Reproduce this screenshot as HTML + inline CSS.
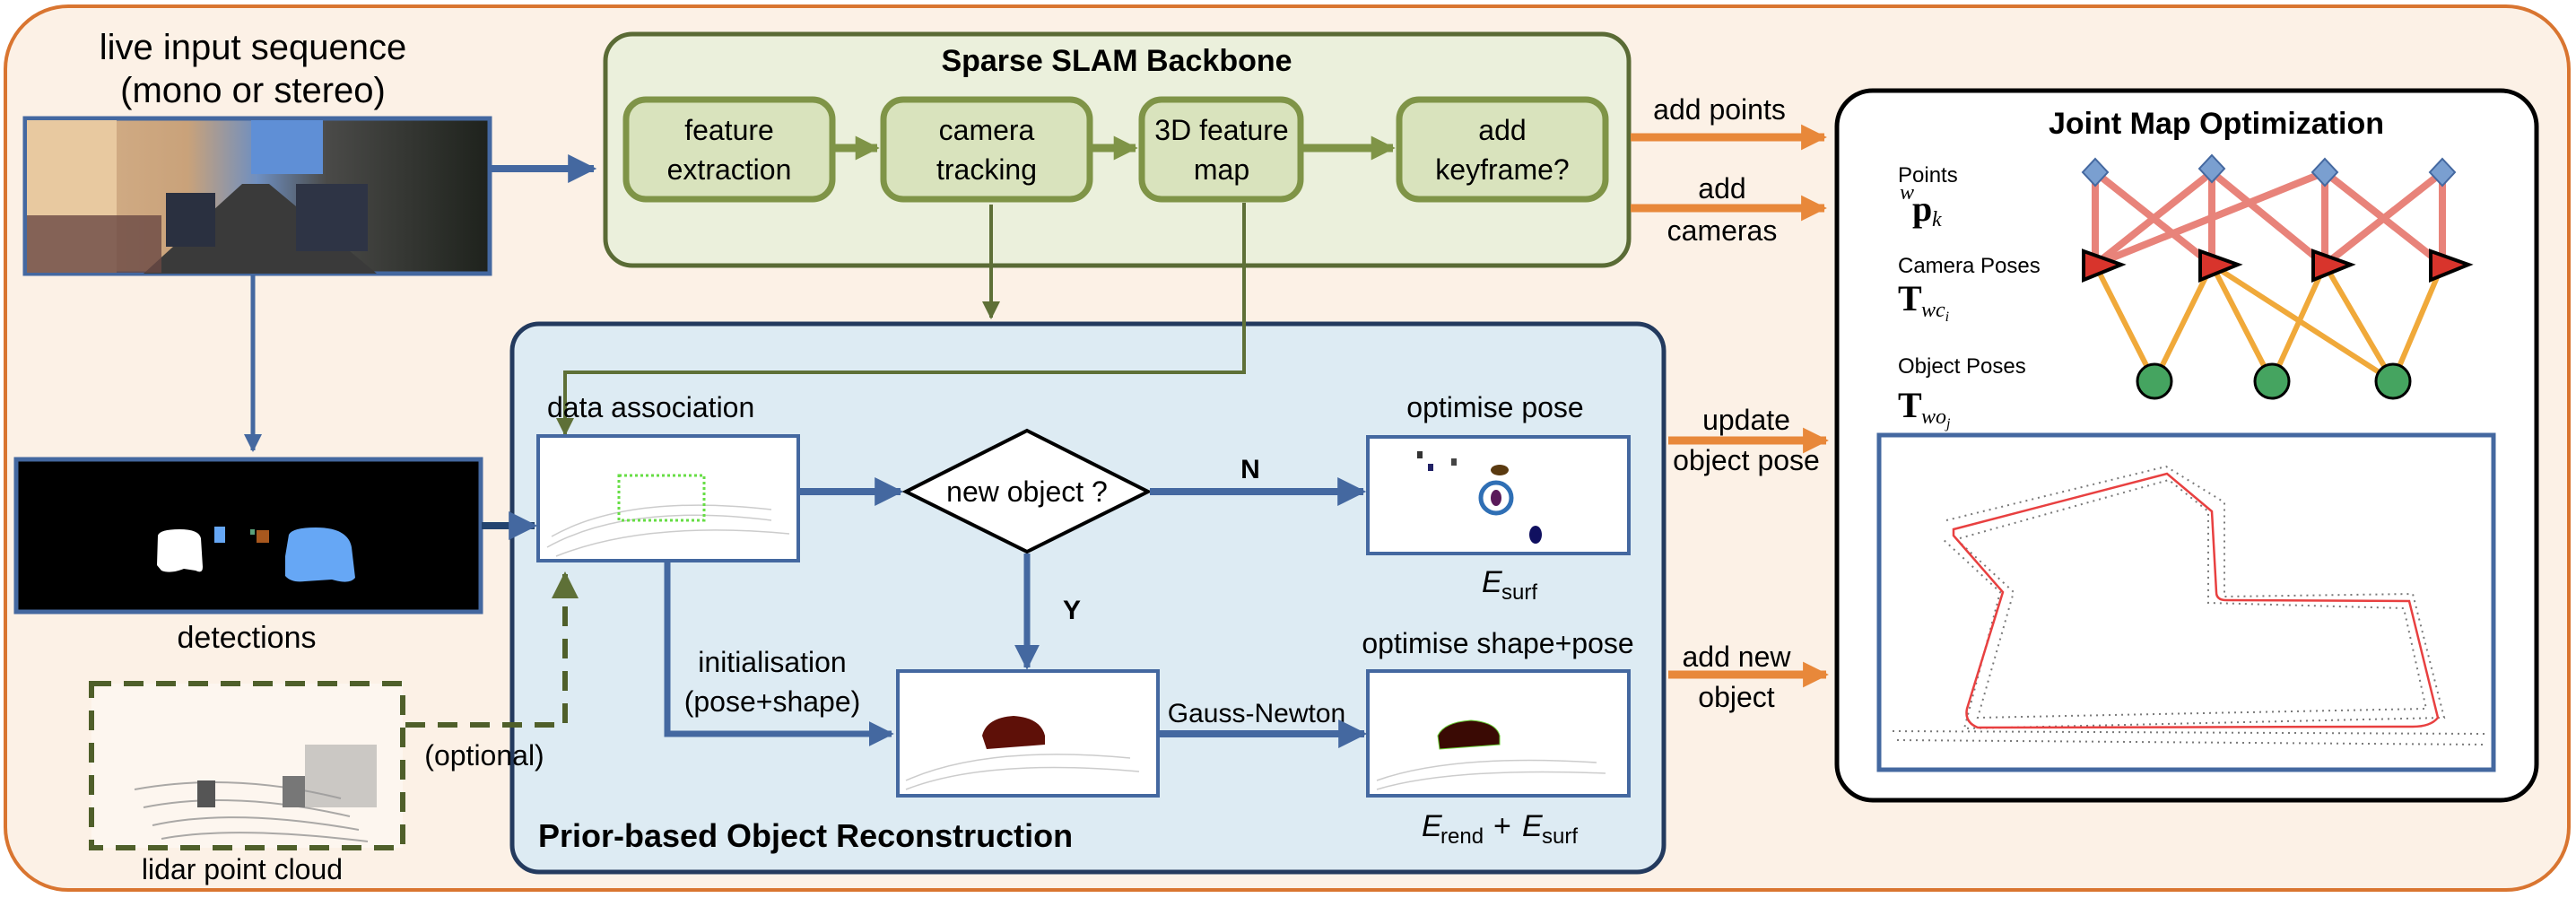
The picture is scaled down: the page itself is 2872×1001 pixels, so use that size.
<!DOCTYPE html>
<html><head><meta charset="utf-8"><style>
html,body{margin:0;padding:0;background:#fff;}
svg{display:block;}
text{font-family:"Liberation Sans",Arial,sans-serif;fill:#000;}
.m{font-family:"Liberation Serif",serif;}
</style></head><body>
<svg width="2872" height="1001" viewBox="0 0 2872 1001" xmlns="http://www.w3.org/2000/svg">
<defs>
<marker id="ab" viewBox="0 0 10 10" refX="9" refY="5" markerWidth="4" markerHeight="4.5" orient="auto" markerUnits="strokeWidth"><path d="M0,0 L10,5 L0,10 z" fill="#4468a0"/></marker>
<marker id="ag" viewBox="0 0 10 10" refX="9" refY="5" markerWidth="5" markerHeight="5" orient="auto" markerUnits="strokeWidth"><path d="M0,0 L10,5 L0,10 z" fill="#5e7037"/></marker>
<marker id="ao" viewBox="0 0 10 10" refX="9" refY="5" markerWidth="3.2" markerHeight="4" orient="auto" markerUnits="strokeWidth"><path d="M0,0 L10,5 L0,10 z" fill="#e8883a"/></marker>
<marker id="al" viewBox="0 0 10 10" refX="9" refY="5" markerWidth="3" markerHeight="4" orient="auto" markerUnits="strokeWidth"><path d="M0,0 L10,5 L0,10 z" fill="#7f9447"/></marker>
<linearGradient id="street" x1="0" y1="0" x2="1" y2="0">
<stop offset="0" stop-color="#d8b48e"/><stop offset="0.35" stop-color="#c9a27a"/><stop offset="0.5" stop-color="#6f8fc0"/><stop offset="0.65" stop-color="#4a4a48"/><stop offset="1" stop-color="#1e221c"/></linearGradient>
</defs>

<!-- outer -->
<rect x="6" y="7" width="2858" height="985" rx="70" fill="#fcf1e6" stroke="#d97530" stroke-width="4"/>
<!-- Blue box background first -->
<rect x="571" y="361" width="1284" height="611" rx="30" fill="#ddebf3" stroke="#233a5e" stroke-width="5"/>

<!-- left column -->
<text x="282" y="66" font-size="40" text-anchor="middle">live input sequence</text>
<text x="282" y="114" font-size="40" text-anchor="middle">(mono or stereo)</text>
<rect x="28" y="132" width="518" height="173" fill="url(#street)" stroke="#4468a0" stroke-width="5"/>
<polygon points="160,305 270,205 300,205 420,305" fill="#3a3a3a"/>
<rect x="30" y="134" width="100" height="170" fill="#e8c9a0"/>
<rect x="30" y="240" width="150" height="64" fill="#6a4844" opacity="0.8"/>
<rect x="185" y="215" width="55" height="60" fill="#2a3040"/>
<rect x="330" y="205" width="80" height="75" fill="#2e3445"/>
<rect x="280" y="134" width="80" height="60" fill="#5f8fd6"/>
<line x1="547" y1="188" x2="662" y2="188" stroke="#4468a0" stroke-width="8" marker-end="url(#ab)"/>
<line x1="282" y1="306" x2="282" y2="502" stroke="#4468a0" stroke-width="5" marker-end="url(#ab)"/>

<rect x="18" y="512" width="518" height="170" fill="#000" stroke="#4468a0" stroke-width="5"/>
<path d="M176,597 Q178,590 200,590 Q222,590 224,600 L226,632 Q226,640 218,636 L205,634 Q190,640 180,636 L175,630 z" fill="#fff"/>
<path d="M322,596 Q326,588 352,588 Q388,588 392,610 L396,644 Q390,652 370,646 L340,648 Q325,650 318,642 L318,620 z" fill="#66a7f5"/>
<rect x="239" y="587" width="12" height="18" fill="#66a7f5"/>
<rect x="286" y="591" width="14" height="14" fill="#a8581e"/>
<rect x="279" y="590" width="5" height="6" fill="#5aa07a"/>
<text x="275" y="722" font-size="34" text-anchor="middle">detections</text>
<line x1="537" y1="586" x2="596" y2="586" stroke="#23446f" stroke-width="8" marker-end="url(#ab)"/>

<rect x="102" y="762" width="347" height="183" fill="#fdf6ef"/>
<g stroke="#888" stroke-width="2" fill="none" opacity="0.7">
<path d="M150,880 Q260,860 380,890"/><path d="M160,900 Q260,880 390,910"/><path d="M170,920 Q260,900 400,925"/><path d="M180,935 Q260,920 410,938"/></g>
<rect x="220" y="870" width="20" height="30" fill="#555"/><rect x="315" y="865" width="25" height="35" fill="#777"/><rect x="340" y="830" width="80" height="70" fill="#999" opacity="0.5"/>
<path d="M102,762 L449,762 L449,945 L102,945 z" fill="none" stroke="#4f5f2a" stroke-width="6" stroke-dasharray="22,14"/>
<text x="270" y="980" font-size="32" text-anchor="middle">lidar point cloud</text>
<path d="M452,808 L630,808 L630,640" fill="none" stroke="#4f5f2a" stroke-width="6" stroke-dasharray="22,14" marker-end="url(#ag)"/>
<text x="540" y="853" font-size="32" text-anchor="middle">(optional)</text>

<!-- SLAM -->
<rect x="675" y="38" width="1141" height="258" rx="30" fill="#ebf0dc" stroke="#5a6b35" stroke-width="5"/>
<text x="1245" y="79" font-size="34" font-weight="bold" text-anchor="middle">Sparse SLAM Backbone</text>
<g fill="#d9e3bd" stroke="#7f9447" stroke-width="7">
<rect x="698" y="111" width="230" height="111" rx="22"/>
<rect x="985" y="111" width="230" height="111" rx="22"/>
<rect x="1273" y="111" width="177" height="111" rx="22"/>
<rect x="1560" y="111" width="230" height="111" rx="22"/>
</g>
<g font-size="32" text-anchor="middle">
<text x="813" y="156">feature</text><text x="813" y="200">extraction</text>
<text x="1100" y="156">camera</text><text x="1100" y="200">tracking</text>
<text x="1362" y="156">3D feature</text><text x="1362" y="200">map</text>
<text x="1675" y="156">add</text><text x="1675" y="200">keyframe?</text>
</g>
<g stroke="#7f9447" stroke-width="9">
<line x1="931" y1="165" x2="978" y2="165" marker-end="url(#al)"/>
<line x1="1218" y1="165" x2="1266" y2="165" marker-end="url(#al)"/>
<line x1="1453" y1="165" x2="1553" y2="165" marker-end="url(#al)"/>
</g>
<line x1="1105" y1="228" x2="1105" y2="354" stroke="#5e7037" stroke-width="4" marker-end="url(#ag)"/>

<!-- Blue box contents -->
<path d="M1387,226 L1387,415 L630,415 L630,484" fill="none" stroke="#5e7037" stroke-width="4" marker-end="url(#ag)"/>
<text x="610" y="465" font-size="32">data association</text>
<rect x="600" y="486" width="290" height="139" fill="#fff" stroke="#4468a0" stroke-width="4"/>
<g stroke="#ccc" stroke-width="1.5" fill="none">
<path d="M610,610 Q700,560 860,580"/><path d="M615,598 Q700,550 860,568"/><path d="M620,620 Q720,580 880,595"/></g>
<rect x="690" y="530" width="95" height="50" fill="none" stroke="#66dd44" stroke-width="3" stroke-dasharray="3,3"/>
<line x1="890" y1="548" x2="1004" y2="548" stroke="#4468a0" stroke-width="8" marker-end="url(#ab)"/>
<polygon points="1145,480 1280,548 1145,615 1010,548" fill="#fff" stroke="#000" stroke-width="4"/>
<text x="1145" y="559" font-size="32" text-anchor="middle">new object ?</text>
<line x1="1282" y1="548" x2="1520" y2="548" stroke="#4468a0" stroke-width="8" marker-end="url(#ab)"/>
<text x="1394" y="533" font-size="30" font-weight="bold" text-anchor="middle">N</text>
<line x1="1145" y1="617" x2="1145" y2="744" stroke="#4468a0" stroke-width="7" marker-end="url(#ab)"/>
<text x="1195" y="690" font-size="30" font-weight="bold" text-anchor="middle">Y</text>

<text x="1667" y="465" font-size="32" text-anchor="middle">optimise pose</text>
<rect x="1525" y="487" width="291" height="130" fill="#fff" stroke="#4468a0" stroke-width="4"/>
<circle cx="1668" cy="555" r="17" fill="none" stroke="#2f6fb5" stroke-width="5"/>
<ellipse cx="1668" cy="555" rx="6" ry="9" fill="#5a1a5a"/>
<ellipse cx="1672" cy="524" rx="10" ry="6" fill="#5a3a10"/>
<ellipse cx="1712" cy="596" rx="7" ry="10" fill="#101060"/>
<rect x="1580" y="503" width="6" height="8" fill="#333"/><rect x="1592" y="517" width="6" height="8" fill="#226"/><rect x="1618" y="511" width="6" height="8" fill="#444"/>
<text x="1652" y="660" font-size="34" font-style="italic">E</text><text x="1674" y="668" font-size="24">surf</text>

<path d="M744,627 L744,818 L994,818" fill="none" stroke="#4468a0" stroke-width="7" marker-end="url(#ab)"/>
<text x="861" y="749" font-size="32" text-anchor="middle">initialisation</text>
<text x="861" y="793" font-size="32" text-anchor="middle">(pose+shape)</text>
<rect x="1001" y="748" width="290" height="139" fill="#fff" stroke="#4468a0" stroke-width="4"/>
<g stroke="#ccc" stroke-width="1.5" fill="none"><path d="M1010,870 Q1100,830 1260,845"/><path d="M1010,880 Q1100,845 1270,860"/></g>
<path d="M1095,820 Q1100,800 1130,798 Q1160,800 1165,820 L1165,830 L1100,835 z" fill="#5e1008"/>
<text x="1401" y="805" font-size="30" text-anchor="middle">Gauss-Newton</text>
<line x1="1291" y1="818" x2="1521" y2="818" stroke="#4468a0" stroke-width="8" marker-end="url(#ab)"/>
<text x="1670" y="728" font-size="32" text-anchor="middle">optimise shape+pose</text>
<rect x="1525" y="748" width="291" height="139" fill="#fff" stroke="#4468a0" stroke-width="4"/>
<g stroke="#ccc" stroke-width="1.5" fill="none"><path d="M1535,870 Q1620,840 1780,850"/><path d="M1535,880 Q1620,855 1790,862"/></g>
<path d="M1603,820 Q1610,805 1640,803 Q1668,805 1672,820 L1672,830 L1605,835 z" fill="#3a0a04" stroke="#6c3" stroke-width="1"/>
<text x="1585" y="932" font-size="34" font-style="italic">E</text><text x="1606" y="940" font-size="24">rend</text>
<text x="1665" y="932" font-size="34">+</text>
<text x="1697" y="932" font-size="34" font-style="italic">E</text><text x="1719" y="940" font-size="24">surf</text>
<text x="600" y="944" font-size="36" font-weight="bold">Prior-based Object Reconstruction</text>

<!-- orange arrows -->
<g stroke="#e8883a" stroke-width="9">
<line x1="1818" y1="153" x2="2034" y2="153" marker-end="url(#ao)"/>
<line x1="1818" y1="232" x2="2034" y2="232" marker-end="url(#ao)"/>
<line x1="1860" y1="491" x2="2036" y2="491" marker-end="url(#ao)"/>
<line x1="1860" y1="752" x2="2036" y2="752" marker-end="url(#ao)"/>
</g>
<g font-size="32" text-anchor="middle">
<text x="1917" y="133">add points</text>
<text x="1920" y="221">add</text><text x="1920" y="268">cameras</text>
<text x="1947" y="479">update</text><text x="1947" y="524">object pose</text>
<text x="1936" y="743">add new</text><text x="1936" y="788">object</text>
</g>

<!-- Joint map -->
<rect x="2048" y="101" width="780" height="791" rx="40" fill="#fff" stroke="#000" stroke-width="5"/>
<text x="2471" y="149" font-size="34" font-weight="bold" text-anchor="middle">Joint Map Optimization</text>
<g stroke="#e8837a" stroke-width="8">
<line x1="2336" y1="192" x2="2336" y2="295"/><line x1="2336" y1="192" x2="2466" y2="295"/>
<line x1="2466" y1="192" x2="2336" y2="295"/><line x1="2466" y1="192" x2="2466" y2="295"/><line x1="2466" y1="192" x2="2592" y2="295"/>
<line x1="2592" y1="192" x2="2336" y2="295"/><line x1="2592" y1="192" x2="2592" y2="295"/><line x1="2592" y1="192" x2="2723" y2="295"/>
<line x1="2723" y1="192" x2="2592" y2="295"/><line x1="2723" y1="192" x2="2723" y2="295"/>
</g>
<g stroke="#f0a93a" stroke-width="6">
<line x1="2336" y1="295" x2="2402" y2="425"/><line x1="2466" y1="295" x2="2402" y2="425"/>
<line x1="2466" y1="295" x2="2533" y2="425"/><line x1="2466" y1="295" x2="2668" y2="425"/>
<line x1="2592" y1="295" x2="2533" y2="425"/><line x1="2592" y1="295" x2="2668" y2="425"/>
<line x1="2723" y1="295" x2="2668" y2="425"/>
</g>
<g fill="#7a9fd0" stroke="#4468a0" stroke-width="2">
<polygon points="2336,177 2350,192 2336,207 2322,192"/><polygon points="2466,173 2480,188 2466,203 2452,188"/>
<polygon points="2592,177 2606,192 2592,207 2578,192"/><polygon points="2723,177 2737,192 2723,207 2709,192"/>
</g>
<g fill="#d8342c" stroke="#000" stroke-width="4">
<polygon points="2323,280 2365,295 2323,312"/><polygon points="2453,280 2495,295 2453,312"/>
<polygon points="2579,280 2621,295 2579,312"/><polygon points="2710,280 2752,295 2710,312"/>
</g>
<g fill="#45a460" stroke="#000" stroke-width="3">
<ellipse cx="2402" cy="425" rx="19" ry="19"/><ellipse cx="2533" cy="425" rx="19" ry="19"/><ellipse cx="2668" cy="425" rx="19" ry="19"/>
</g>
<g font-size="24">
<text x="2116" y="203">Points</text><text x="2116" y="304">Camera Poses</text><text x="2116" y="416">Object Poses</text>
</g>
<text class="m" x="2118" y="222" font-size="24" font-style="italic">w</text>
<text class="m" x="2132" y="246" font-size="40" font-weight="bold">p</text><text class="m" x="2154" y="252" font-size="24" font-style="italic">k</text>
<text class="m" x="2116" y="346" font-size="40" font-weight="bold">T</text><text class="m" x="2142" y="353" font-size="24" font-style="italic">wc<tspan font-size="16" dy="5">i</tspan></text>
<text class="m" x="2116" y="465" font-size="40" font-weight="bold">T</text><text class="m" x="2142" y="472" font-size="24" font-style="italic">wo<tspan font-size="16" dy="5">j</tspan></text>

<rect x="2095" y="485" width="685" height="373" fill="#fff" stroke="#4468a0" stroke-width="5"/>
<g stroke="#222" stroke-width="2" stroke-dasharray="2,5" fill="none" opacity="0.6">
<path d="M2170,580 L2415,520 L2480,560 L2480,665 L2690,662 L2725,800 L2190,812 L2230,660 L2165,600"/>
<path d="M2185,600 L2418,535 L2462,570 L2462,672 L2680,678 L2705,790 L2205,800 L2245,660 L2180,600"/>
<path d="M2110,815 L2770,818"/><path d="M2115,825 L2770,830"/>
</g>
<path d="M2178,590 L2416,528 L2466,570 L2471,660 Q2471,669 2482,669 L2686,670 L2718,800 Q2710,810 2690,810 L2205,811 Q2190,805 2193,790 L2233,660 L2178,597 z" fill="none" stroke="#e84040" stroke-width="2.5"/>
</svg>
</body></html>
